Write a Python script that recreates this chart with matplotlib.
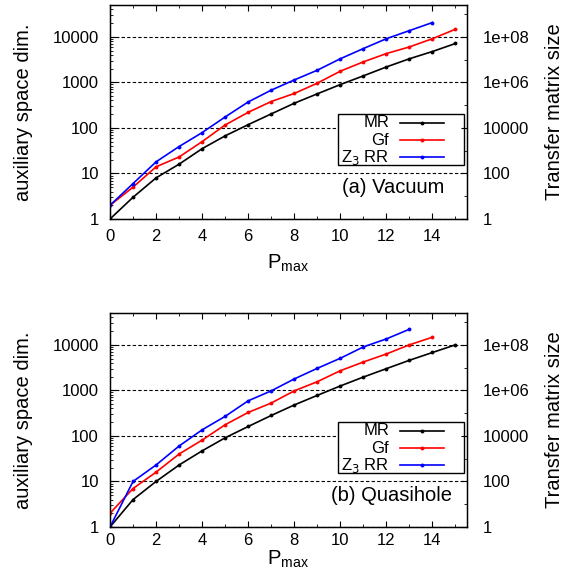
import numpy as np
import matplotlib.pyplot as plt
from matplotlib.ticker import LogLocator, NullFormatter, MultipleLocator, FixedLocator
from matplotlib.patches import Rectangle
from matplotlib.lines import Line2D

plt.rcParams['font.family'] = ['Liberation Sans', 'DejaVu Sans']

# P_max values
P = list(range(16))

# (a) vacuum
vac_mr = [1, 3, 8, 16, 35, 67, 118, 203, 348, 560, 895, 1390, 2180, 3300, 4760, 7150]
vac_gf = [2, 5, 14, 23, 50, 116, 220, 380, 570, 960, 1760, 2820, 4290, 6000, 9100, 14700]
vac_rr = [2, 6, 18, 39, 79, 174, 372, 675, 1130, 1850, 3300, 5520, 9100, 13700, 20600]

# (b) quasihole
qh_mr = [1, 4, 10, 23, 47, 91, 161, 281, 478, 777, 1250, 1960, 3000, 4580, 6790, 10000]
qh_gf = [2, 7, 16, 40, 81, 176, 328, 527, 976, 1550, 2700, 4200, 6300, 10000, 14700]
qh_rr = [1, 10, 23, 60, 136, 269, 590, 976, 1780, 3050, 5070, 9000, 13500, 22000]

labels = ['MR', 'Gf', 'Z$_3$ RR']
colors = ['black', '#ff0000', '#0000ff']

left_ticks = [1, 10, 100, 1000, 10000]
left_labels = ['1', '10', '100', '1000', '10000']
right_ticks = [1, 1e2, 1e4, 1e6, 1e8]
right_labels = ['1', '100', '10000', '1e+06', '1e+08']
ymax = 5e4

fig = plt.figure(figsize=(5.7, 5.81), dpi=100)
W, H = 570.0, 581.0


def panel(rect, series, tag, tag_x, xpad):
    ax = fig.add_axes(rect)
    for ys, c in zip(series, colors):
        ax.plot(P[:len(ys)], ys, color=c, lw=1.2, marker='o', ms=2.8, mew=0)
    ax.set_yscale('log')
    ax.set_xlim(0, 15.5)
    ax.set_ylim(1, ymax)
    ax.xaxis.set_major_locator(MultipleLocator(2))
    ax.xaxis.set_minor_locator(MultipleLocator(1))
    ax.set_xticks([0, 2, 4, 6, 8, 10, 12, 14])
    ax.yaxis.set_major_locator(FixedLocator(left_ticks))
    ax.set_yticklabels(left_labels)
    ax.yaxis.set_minor_locator(LogLocator(base=10, subs=np.arange(2, 10)))
    ax.yaxis.set_minor_formatter(NullFormatter())
    ax.tick_params(axis='x', which='both', direction='in', top=True, labelsize=12, pad=xpad)
    ax.tick_params(axis='x', which='major', length=4)
    ax.tick_params(axis='x', which='minor', length=2.5)
    ax.tick_params(axis='y', which='both', direction='in', right=False, labelsize=12, pad=8)
    ax.tick_params(axis='y', which='major', length=4)
    ax.tick_params(axis='y', which='minor', length=2)
    ax.grid(axis='y', which='major', color='black', lw=0.8, ls=(0, (3, 2)))
    for s in ax.spines.values():
        s.set_linewidth(1.0)

    ax2 = ax.twinx()
    ax2.set_yscale('log')
    ax2.set_ylim(1, ymax ** 2)
    ax2.yaxis.set_major_locator(FixedLocator(right_ticks))
    ax2.set_yticklabels(right_labels)
    ax2.yaxis.set_minor_locator(FixedLocator([1e1, 1e3, 1e5, 1e7, 1e9]))
    ax2.yaxis.set_minor_formatter(NullFormatter())
    ax2.tick_params(axis='y', which='both', direction='in', labelsize=12, pad=11)
    ax2.tick_params(axis='y', which='major', length=4)
    ax2.tick_params(axis='y', which='minor', length=2)

    # legend, gnuplot style
    ax.add_patch(Rectangle((0.639, 0.252), 0.353, 0.239, transform=ax.transAxes,
                           facecolor='white', edgecolor='black', lw=1.0, zorder=5))
    for lab, c, yy in zip(labels, colors, [0.450, 0.369, 0.288]):
        ax.text(0.782, yy, lab, transform=ax.transAxes, ha='right', va='center',
                fontsize=12, zorder=6)
        ax.add_line(Line2D([0.812, 0.936], [yy, yy], transform=ax.transAxes,
                           color=c, lw=1.2, zorder=6))
        ax.add_line(Line2D([0.874], [yy], transform=ax.transAxes, color=c,
                           marker='o', ms=2.8, mew=0, zorder=6))
    ax.text(tag_x, 0.147, tag, transform=ax.transAxes, ha='right', va='center',
            fontsize=14.5, zorder=6)
    return ax


ax_a = panel([110 / W, 1 - 219 / H, 357 / W, 214 / H],
             [vac_mr, vac_gf, vac_rr], '(a) Vacuum', 0.938, 7)
ax_b = panel([110 / W, 1 - 527 / H, 357 / W, 214 / H],
             [qh_mr, qh_gf, qh_rr], '(b) Quasihole', 0.958, 4.5)

for ax, ly in [(ax_a, 263), (ax_b, 559)]:
    bottom = 219 if ax is ax_a else 527
    ax.text(0.5, -(ly - bottom) / 214.0, 'P$_{\\mathregular{max}}$', transform=ax.transAxes,
            ha='center', va='center', fontsize=14.5)
    ax.text(-87 / 357.0, 0.5, 'auxiliary space dim.', transform=ax.transAxes,
            ha='center', va='center', rotation=90, fontsize=14.5)
    ax.text(445 / 357.0, 0.5, 'Transfer matrix size', transform=ax.transAxes,
            ha='center', va='center', rotation=90, fontsize=14.5)

fig.savefig('out.png', dpi=100)
